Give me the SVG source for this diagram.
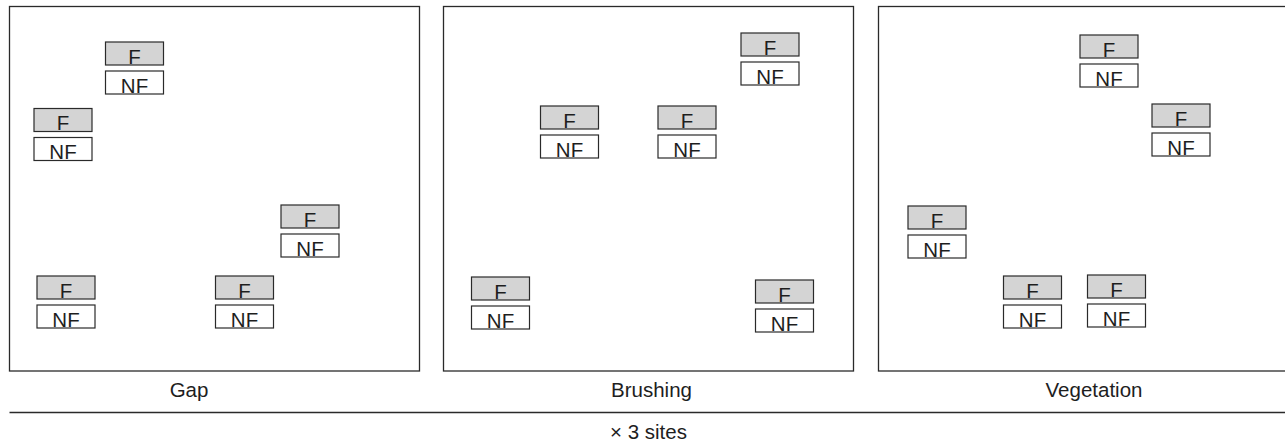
<svg xmlns="http://www.w3.org/2000/svg" width="1285" height="442" viewBox="0 0 1285 442">
<style>
  .panel { fill: #ffffff; stroke: #2a2a2a; stroke-width: 1.3; }
  .f { fill: #d4d4d4; stroke: #2a2a2a; stroke-width: 1.2; }
  .nf { fill: #ffffff; stroke: #2a2a2a; stroke-width: 1.2; }
  .t { font-family: "Liberation Sans", Arial, sans-serif; font-size: 20.5px; fill: #1e1e1e; text-anchor: middle; }
  .lbl { font-family: "Liberation Sans", Arial, sans-serif; font-size: 20.5px; fill: #1e1e1e; text-anchor: middle; }
  .rule { stroke: #2a2a2a; stroke-width: 1.3; fill: none; }
</style>
<defs>
  <g id="pair">
    <rect class="f" x="0.5" y="0.5" width="58" height="23"/>
    <text class="t" x="29.5" y="22">F</text>
    <rect class="nf" x="0.5" y="29.5" width="58" height="23"/>
    <text class="t" x="29.5" y="51">NF</text>
  </g>
</defs>
<rect fill="#ffffff" x="0" y="0" width="1285" height="442"/>

<g id="panel-gap">
  <rect class="panel" x="9.5" y="6.5" width="410" height="364.5"/>
  <text class="lbl" x="189" y="396.5">Gap</text>
</g>
<g id="panel-brushing">
  <rect class="panel" x="443.5" y="6.5" width="410" height="364.5"/>
  <text class="lbl" x="651.5" y="396.5">Brushing</text>
</g>
<g id="panel-vegetation">
  <rect class="panel" x="878.5" y="6.5" width="420" height="364.5"/>
  <text class="lbl" x="1094" y="396.5">Vegetation</text>
</g>

<g id="gap-1"><use href="#pair" x="105" y="41.5"/></g>
<g id="gap-2"><use href="#pair" x="33.5" y="108"/></g>
<g id="gap-3"><use href="#pair" x="280.5" y="204.5"/></g>
<g id="gap-4"><use href="#pair" x="36.5" y="275.5"/></g>
<g id="gap-5"><use href="#pair" x="215" y="275.5"/></g>

<g id="brushing-1"><use href="#pair" x="740.5" y="32.5"/></g>
<g id="brushing-2"><use href="#pair" x="540" y="105.5"/></g>
<g id="brushing-3"><use href="#pair" x="657.5" y="105.5"/></g>
<g id="brushing-4"><use href="#pair" x="471" y="276.5"/></g>
<g id="brushing-5"><use href="#pair" x="755" y="279.5"/></g>

<g id="vegetation-1"><use href="#pair" x="1079.5" y="34.5"/></g>
<g id="vegetation-2"><use href="#pair" x="1151.5" y="103.5"/></g>
<g id="vegetation-3"><use href="#pair" x="907.5" y="205.5"/></g>
<g id="vegetation-4"><use href="#pair" x="1003" y="275.5"/></g>
<g id="vegetation-5"><use href="#pair" x="1087" y="274.5"/></g>

<g id="connectors">
  <line class="rule" x1="9.5" y1="412.5" x2="1285" y2="412.5"/>
</g>
<g id="footer">
  <text class="lbl" x="648.5" y="438.5">× 3 sites</text>
</g>
</svg>
